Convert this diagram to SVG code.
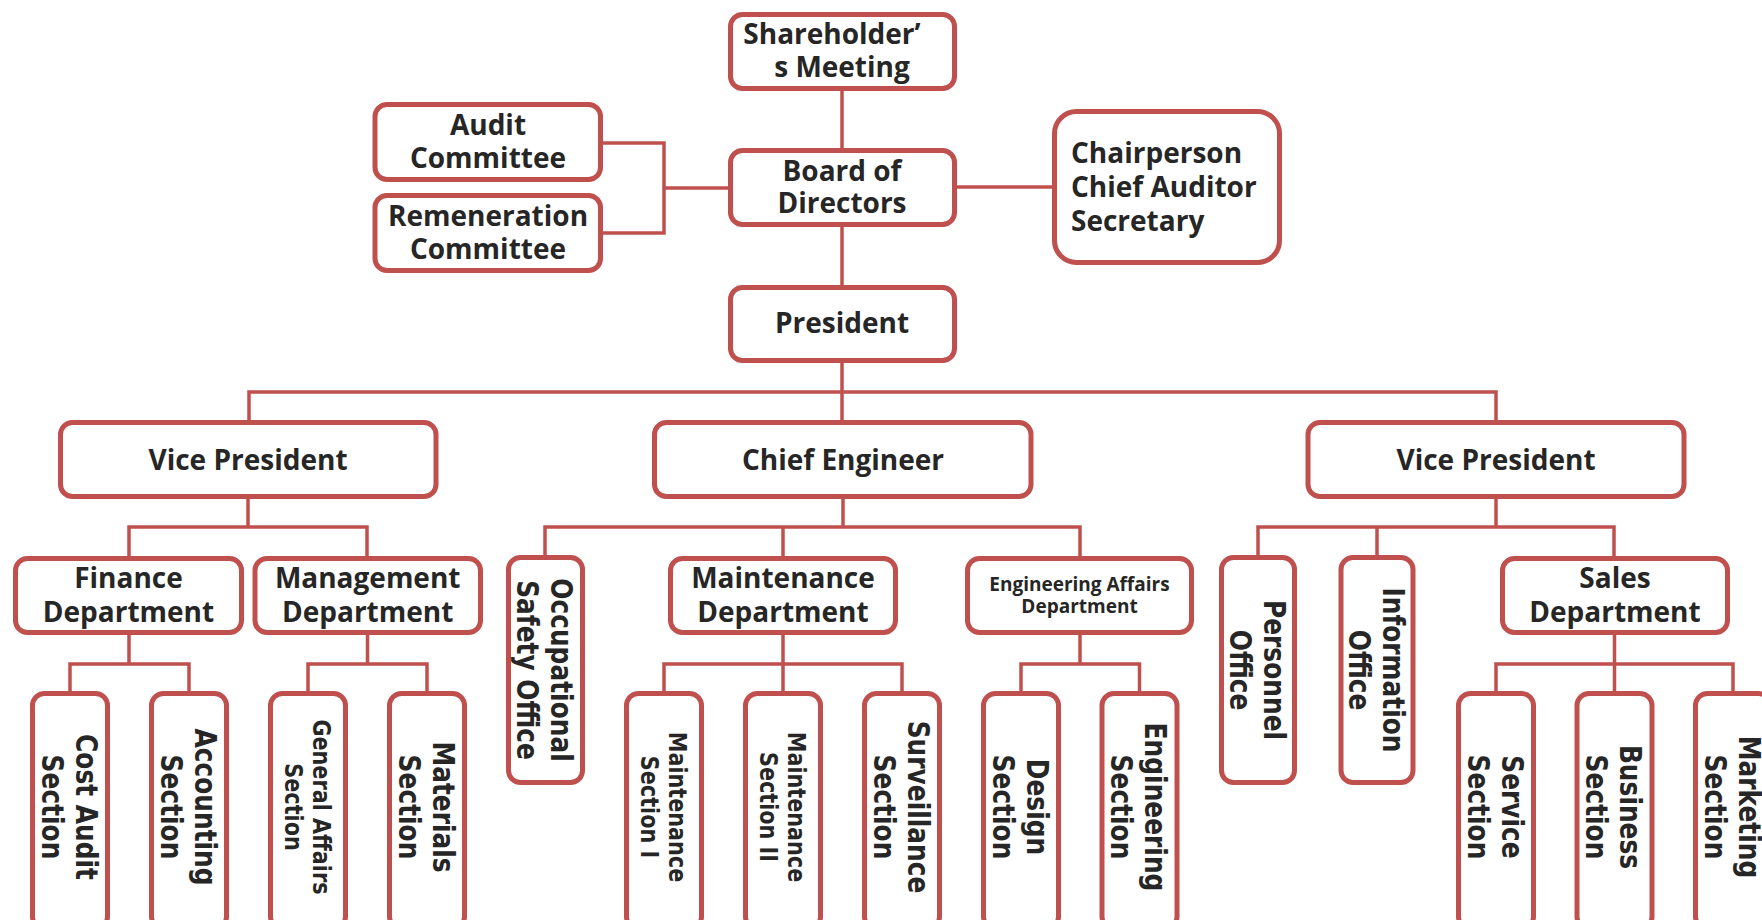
<svg xmlns="http://www.w3.org/2000/svg" width="1762" height="920" viewBox="0 0 1762 920">
<style>
.box{fill:#fff;stroke:#C0504D;stroke-width:5}
.ln{stroke:#C0504D;stroke-width:3.5;fill:none}
.t{font-family:"Open Sans","Noto Sans",sans-serif;font-weight:700;font-size:28px;fill:#262626;text-anchor:middle}
.ts{font-size:19px}
.l{text-anchor:start}
.v{font-family:"DejaVu Sans","Verdana",sans-serif;font-weight:700;font-size:30px;fill:#262626;text-anchor:middle}
.vs{font-size:25px}
</style>
<rect width="1762" height="920" fill="#fff"/>
<g id="connectors" class="ln">
<path d="M842 91V148M842 227V285M842 363V420"/>
<path d="M603 143H664V233H603M664 188H728"/>
<path d="M957 187H1052"/>
<path d="M249 420V392H1496V420"/>
<path d="M248 499V527M129 556V527H367V556"/>
<path d="M843 499V527M545 555V527H1080V556M783 527V556"/>
<path d="M1496 499V527M1258 555V527H1614V556M1377 527V555"/>
<path d="M129 635V664M70 691V664H189V691"/>
<path d="M367.5 635V664M308 691V664H427V691"/>
<path d="M783 635V691M664 691V664H902V691"/>
<path d="M1080 635V664M1021 691V664H1139.5V691"/>
<path d="M1614.5 635V691M1496 691V664H1733V691"/>
</g>
<g id="shareholders">
<rect class="box" x="730.5" y="14.5" width="224" height="74" rx="12"/>
<text class="t" x="832" y="44">Shareholder’</text>
<text class="t" x="842" y="77">s Meeting</text>
</g>
<g id="board">
<rect class="box" x="730.5" y="150.5" width="224" height="74" rx="12"/>
<text class="t" x="842" y="181">Board of</text>
<text class="t" x="842" y="213">Directors</text>
</g>
<g id="president">
<rect class="box" x="730.5" y="287.5" width="224" height="73" rx="12"/>
<text class="t" x="842" y="333">President</text>
</g>
<g id="audit">
<rect class="box" x="375" y="104.5" width="225.5" height="75" rx="12"/>
<text class="t" x="488" y="135">Audit</text>
<text class="t" x="488" y="168">Committee</text>
</g>
<g id="remuneration">
<rect class="box" x="375" y="195.5" width="225.5" height="75" rx="12"/>
<text class="t" x="488" y="226">Remeneration</text>
<text class="t" x="488" y="259">Committee</text>
</g>
<g id="chairperson">
<rect class="box" x="1054.5" y="111.5" width="225" height="151" rx="22"/>
<text class="t l" x="1071" y="163">Chairperson</text>
<text class="t l" x="1071" y="197">Chief Auditor</text>
<text class="t l" x="1071" y="231">Secretary</text>
</g>
<g id="vp-left">
<rect class="box" x="60.5" y="422.5" width="375.5" height="74" rx="12"/>
<text class="t" x="248" y="470">Vice President</text>
</g>
<g id="chief-engineer">
<rect class="box" x="654.5" y="422.5" width="376.5" height="74" rx="12"/>
<text class="t" x="843" y="470">Chief Engineer</text>
</g>
<g id="vp-right">
<rect class="box" x="1308" y="422.5" width="376" height="74" rx="12"/>
<text class="t" x="1496" y="470">Vice President</text>
</g>
<g id="finance">
<rect class="box" x="15.5" y="558.5" width="226" height="74" rx="12"/>
<text class="t" x="128.5" y="588">Finance</text>
<text class="t" x="128.5" y="622">Department</text>
</g>
<g id="management">
<rect class="box" x="255" y="558.5" width="225.5" height="74" rx="12"/>
<text class="t" x="367.7" y="588">Management</text>
<text class="t" x="367.7" y="622">Department</text>
</g>
<g id="maintenance">
<rect class="box" x="670.5" y="558.5" width="225" height="74" rx="12"/>
<text class="t" x="783" y="588">Maintenance</text>
<text class="t" x="783" y="622">Department</text>
</g>
<g id="eng-affairs">
<rect class="box" x="967.5" y="558.5" width="224" height="74" rx="12"/>
<text class="t ts" x="1079.5" y="591">Engineering Affairs</text>
<text class="t ts" x="1079.5" y="613">Department</text>
</g>
<g id="sales">
<rect class="box" x="1502.5" y="558.5" width="225" height="74" rx="12"/>
<text class="t" x="1615" y="588">Sales</text>
<text class="t" x="1615" y="622">Department</text>
</g>
<g id="occupational">
<rect class="box" x="508.5" y="557.5" width="74" height="225" rx="12"/>
<g transform="translate(545.5,670) rotate(90) scale(0.83,1)"><text class="v" x="0" y="-6">Occupational</text><text class="v" x="0" y="28">Safety Office</text></g>
</g>
<g id="personnel">
<rect class="box" x="1221.5" y="557.5" width="73" height="225" rx="12"/>
<g transform="translate(1258,670) rotate(90) scale(0.83,1)"><text class="v" x="0" y="-6">Personnel</text><text class="v" x="0" y="28">Office</text></g>
</g>
<g id="information">
<rect class="box" x="1341" y="557.5" width="72" height="225" rx="12"/>
<g transform="translate(1377,670) rotate(90) scale(0.83,1)"><text class="v" x="0" y="-6">Information</text><text class="v" x="0" y="28">Office</text></g>
</g>
<g id="cost-audit">
<rect class="box" x="32.5" y="693.5" width="75" height="235" rx="12"/>
<g transform="translate(70,807) rotate(90) scale(0.83,1)"><text class="v" x="0" y="-6">Cost Audit</text><text class="v" x="0" y="28">Section</text></g>
</g>
<g id="accounting">
<rect class="box" x="151.5" y="693.5" width="75" height="235" rx="12"/>
<g transform="translate(189,807) rotate(90) scale(0.83,1)"><text class="v" x="0" y="-6">Accounting</text><text class="v" x="0" y="28">Section</text></g>
</g>
<g id="general-affairs">
<rect class="box" x="270.5" y="693.5" width="75" height="235" rx="12"/>
<g transform="translate(308,807) rotate(90) scale(0.83,1)"><text class="v vs" x="0" y="-5.3">General Affairs</text><text class="v vs" x="0" y="23.3">Section</text></g>
</g>
<g id="materials">
<rect class="box" x="389.5" y="693.5" width="75" height="235" rx="12"/>
<g transform="translate(427,807) rotate(90) scale(0.83,1)"><text class="v" x="0" y="-6">Materials</text><text class="v" x="0" y="28">Section</text></g>
</g>
<g id="maint-1">
<rect class="box" x="626.5" y="693.5" width="75" height="235" rx="12"/>
<g transform="translate(664,807) rotate(90) scale(0.83,1)"><text class="v vs" x="0" y="-5.3">Maintenance</text><text class="v vs" x="0" y="23.3">Section I</text></g>
</g>
<g id="maint-2">
<rect class="box" x="745.5" y="693.5" width="75" height="235" rx="12"/>
<g transform="translate(783,807) rotate(90) scale(0.83,1)"><text class="v vs" x="0" y="-5.3">Maintenance</text><text class="v vs" x="0" y="23.3">Section II</text></g>
</g>
<g id="surveillance">
<rect class="box" x="864.5" y="693.5" width="75" height="235" rx="12"/>
<g transform="translate(902,807) rotate(90) scale(0.83,1)"><text class="v" x="0" y="-6">Surveillance</text><text class="v" x="0" y="28">Section</text></g>
</g>
<g id="design">
<rect class="box" x="983.5" y="693.5" width="75" height="235" rx="12"/>
<g transform="translate(1021,807) rotate(90) scale(0.83,1)"><text class="v" x="0" y="-6">Design</text><text class="v" x="0" y="28">Section</text></g>
</g>
<g id="engineering">
<rect class="box" x="1102" y="693.5" width="75" height="235" rx="12"/>
<g transform="translate(1139.5,807) rotate(90) scale(0.83,1)"><text class="v" x="0" y="-6">Engineering</text><text class="v" x="0" y="28">Section</text></g>
</g>
<g id="service">
<rect class="box" x="1458.5" y="693.5" width="75" height="235" rx="12"/>
<g transform="translate(1496,807) rotate(90) scale(0.83,1)"><text class="v" x="0" y="-6">Service</text><text class="v" x="0" y="28">Section</text></g>
</g>
<g id="business">
<rect class="box" x="1577" y="693.5" width="75" height="235" rx="12"/>
<g transform="translate(1614.5,807) rotate(90) scale(0.83,1)"><text class="v" x="0" y="-6">Business</text><text class="v" x="0" y="28">Section</text></g>
</g>
<g id="marketing">
<rect class="box" x="1695.5" y="693.5" width="75" height="235" rx="12"/>
<g transform="translate(1733,807) rotate(90) scale(0.83,1)"><text class="v" x="0" y="-6">Marketing</text><text class="v" x="0" y="28">Section</text></g>
</g>
</svg>
